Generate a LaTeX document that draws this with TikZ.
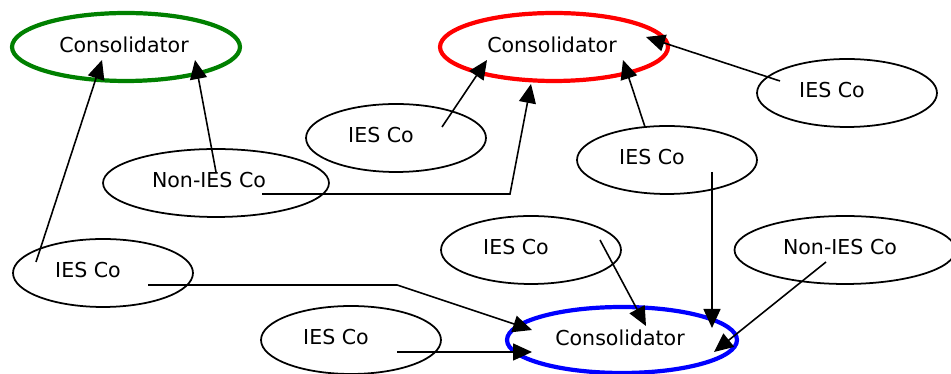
\documentclass[tikz,border=0pt]{standalone}
\usepackage{fontspec}
\setmainfont{DejaVu Sans}
\usepackage{tikz}
\usetikzlibrary{shapes}
\usetikzlibrary{arrows.meta,positioning}

\begin{document}
\begin{tikzpicture}[x=0.02cm, y=-0.02cm,
    co/.style={ellipse, draw, line width=1pt, minimum width=3.6cm, minimum height=1.36cm},
    cons/.style={co, draw=#1, line width=2.4pt, minimum width=4.56cm},
    txt/.style={text=black, font=\fontsize{11.7}{14}\selectfont, xshift=#1, yshift=0.05cm},
    link/.style={line width=0.9pt, -{Triangle[length=0.38cm, width=0.34cm]}}]
  \useasboundingbox (0,0) rectangle (951,374);
  % consolidators
  \node [cons=green!50!black, label={[txt=-0.04cm]center:Consolidator}] (consG) at (126,47) {};
  \node [cons=red, label={[txt=-0.04cm]center:Consolidator}] (consR) at (554,47) {};
  \node [cons=blue, minimum width=4.6cm, minimum height=1.32cm, label={[txt=-0.04cm]center:Consolidator}] (consB) at (622,340) {};
  % companies
  \node [co, minimum width=4.52cm, label={[txt=-0.14cm]center:Non-IES Co}] (nonL) at (216,183) {};
  \node [co, label={[txt=-0.3cm]center:IES Co}] (iesL) at (103,273) {};
  \node [co, label={[txt=-0.3cm]center:IES Co}] (iesA) at (396,138) {};
  \node [co, label={[txt=-0.3cm]center:IES Co}] (iesBot) at (351,340) {};
  \node [co, label={[txt=-0.3cm]center:IES Co}] (iesM) at (531,250) {};
  \node [co, label={[txt=-0.3cm]center:IES Co}] (iesMR) at (667,160) {};
  \node [co, label={[txt=-0.3cm]center:IES Co}] (iesTR) at (847,93) {};
  \node [co, minimum width=4.42cm, label={[txt=-0.1cm]center:Non-IES Co}] (nonR) at (845,250) {};
  % straight links
  \foreach \src/\sx/\sy/\dst/\dx/\dy in {iesL/-67/-11/consG/-24/13, nonL/0/-11/consG/69/13,
      iesA/46/-11/consR/-67/13, iesMR/-22/-33/consR/69/13, iesTR/-67/-12/consR/92/-10,
      iesMR/45/12/consB/90/-12, nonR/-19/12/consB/92/12, iesM/69/-10/consB/24/-14,
      iesBot/46/12/consB/-90/12}
    \draw [link] ([shift={(\sx,\sy)}]\src.center) -- ([shift={(\dx,\dy)}]\dst.center);
  % bent links
  \draw [link] ([shift={(46,11)}]nonL.center) -- ([shift={(294,11)}]nonL.center) -- ([shift={(-23,37)}]consR.center);
  \draw [link] ([shift={(45,12)}]iesL.center) -- ([shift={(294,12)}]iesL.center) -- ([shift={(-90,-10)}]consB.center);
\end{tikzpicture}
\end{document}
